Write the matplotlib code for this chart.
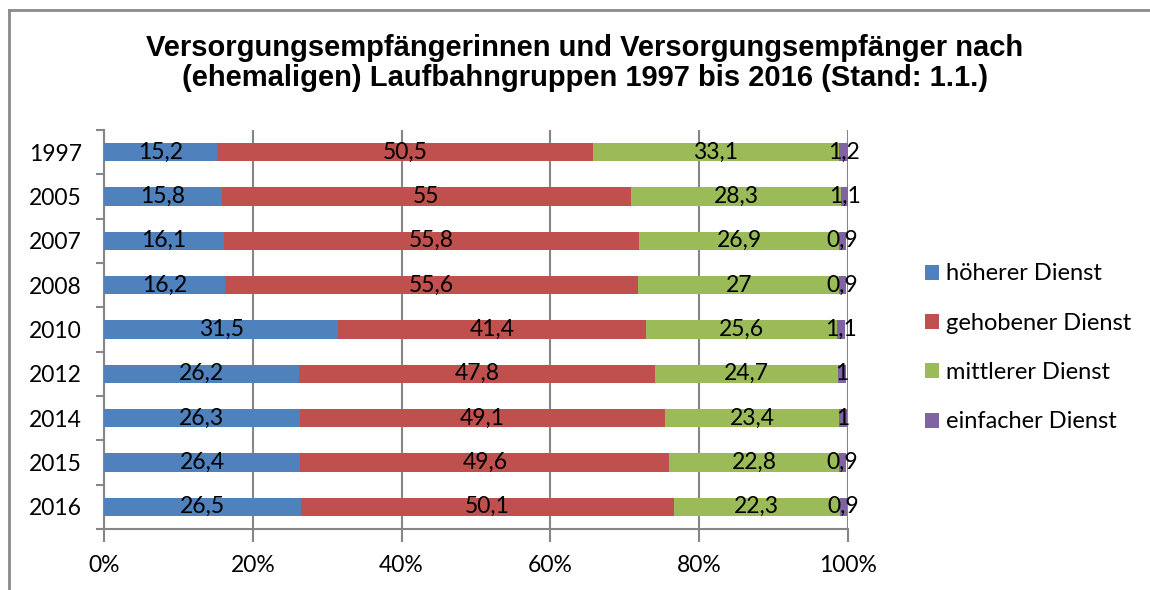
import matplotlib
matplotlib.use("Agg")
import matplotlib.pyplot as plt
from matplotlib.lines import Line2D
from matplotlib.patches import Patch
import numpy as np

years = ["1997", "2005", "2007", "2008", "2010", "2012", "2014", "2015", "2016"]
hoeherer = [15.2, 15.8, 16.1, 16.2, 31.5, 26.2, 26.3, 26.4, 26.5]
gehobener = [50.5, 55.0, 55.8, 55.6, 41.4, 47.8, 49.1, 49.6, 50.1]
mittlerer = [33.1, 28.3, 26.9, 27.0, 25.6, 24.7, 23.4, 22.8, 22.3]
einfacher = [1.2, 1.1, 0.9, 0.9, 1.1, 1.0, 1.0, 0.9, 0.9]
series_names = ["höherer Dienst", "gehobener Dienst", "mittlerer Dienst", "einfacher Dienst"]
x_ticks = [0, 20, 40, 60, 80, 100]
x_ticklabels = ["0%", "20%", "40%", "60%", "80%", "100%"]
title = ("Versorgungsempfängerinnen und Versorgungsempfänger nach\n"
         "(ehemaligen) Laufbahngruppen 1997 bis 2016 (Stand: 1.1.)")

colors = ["#4F81BD", "#C0504D", "#9BBB59", "#8064A2"]
label_font = "Lato"
fs = 16.5
grid_c = "#868686"

fig = plt.figure(figsize=(11.5, 5.9), dpi=100)
ax = fig.add_axes([104 / 1150, 1 - 529 / 590, 744 / 1150, 399 / 590])

series = [hoeherer, gehobener, mittlerer, einfacher]
y = np.arange(len(years))
left = np.zeros(len(years))
for vals, col, name in zip(series, colors, series_names):
    vals = np.array(vals, dtype=float)
    ax.barh(y, vals, left=left, height=0.41, color=col, label=name, zorder=3)
    for yi, (l, v) in enumerate(zip(left, vals)):
        txt = f"{v:g}".replace(".", ",")
        ax.text(l + v / 2, yi, txt, ha="center", va="center", fontsize=fs,
                family=label_font, color="black", zorder=5)
    left = left + vals

ax.set_xlim(0, 100)
ax.set_ylim(len(years) - 0.5, -0.5)
ax.set_xticks(x_ticks)
ax.set_xticklabels(x_ticklabels, family=label_font, fontsize=fs)
ax.set_yticks(y)
ax.set_yticklabels(years, family=label_font, fontsize=fs)
ax.tick_params(axis="y", which="major", length=0, pad=16)
ax.set_yticks(np.arange(-0.5, len(years), 1.0), minor=True)
ax.tick_params(axis="y", which="minor", length=6, width=1.5, color=grid_c, direction="out")
ax.tick_params(axis="x", which="major", length=9, width=1.5, color=grid_c, direction="out", pad=10)

ax.grid(axis="x", color=grid_c, linewidth=1.5, zorder=0)
for s in ["top", "right"]:
    ax.spines[s].set_visible(False)
for s in ["left", "bottom"]:
    ax.spines[s].set_color(grid_c)
    ax.spines[s].set_linewidth(1.5)

fig.text(585 / 1150, 1 - 63 / 590, title, ha="center", va="center",
         fontsize=21, fontweight="bold", family="Liberation Sans", linespacing=1.05)

handles = [Patch(facecolor=c, edgecolor="none") for c in colors]
fig.legend(handles, series_names, loc="center left",
           bbox_to_anchor=(904 / 1150, 1 - 348 / 590), frameon=False,
           prop={"family": label_font, "size": 17}, handlelength=0.6, handleheight=0.6,
           handletextpad=0.3, labelspacing=1.2)

# outer chart frame (top and left edges visible)
fig.add_artist(Line2D([9 / 1150, 1.0], [1 - 9.5 / 590, 1 - 9.5 / 590], color="#8a8a8a", linewidth=2.0))
fig.add_artist(Line2D([9 / 1150, 9 / 1150], [0.0, 1 - 9.5 / 590], color="#8a8a8a", linewidth=2.0))

fig.savefig("out.png", dpi=100, facecolor="white")
